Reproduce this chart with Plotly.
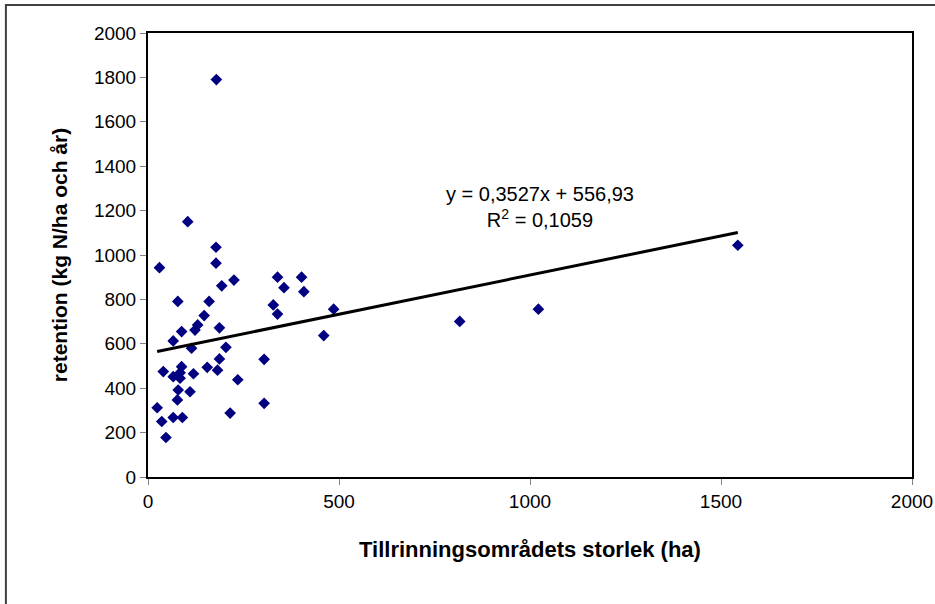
import plotly.graph_objects as go

# catchment area (ha)
area = [179, 104, 178, 178, 30, 225, 193, 339, 402, 356, 408, 78, 160, 328, 339, 486,
        147, 130, 123, 88, 187, 66, 114, 204, 460, 816, 1022, 1544, 304, 187, 155, 182,
        88, 40, 119, 66, 84, 235, 79, 110, 77, 24, 36, 66, 90, 215, 304, 47, 84]
# retention (kg N/ha och år)
retention = [1790, 1150, 1035, 963, 943, 887, 861, 900, 900, 853, 835, 791, 791, 775, 734, 756,
             727, 685, 662, 655, 672, 613, 580, 584, 637, 701, 756, 1044, 530, 532, 494, 481,
             497, 475, 465, 452, 445, 438, 392, 384, 347, 312, 250, 268, 268, 288, 332, 178, 470]

slope = 0.3527
intercept = 556.93
trend_x = [min(area), max(area)]
trend_y = [slope * v + intercept for v in trend_x]

x_ticks = [0, 500, 1000, 1500, 2000]
y_ticks = [0, 200, 400, 600, 800, 1000, 1200, 1400, 1600, 1800, 2000]

FONT = "Liberation Sans, Arial, sans-serif"

fig = go.Figure()
fig.add_trace(go.Scatter(
    x=area, y=retention, mode="markers",
    marker=dict(symbol="diamond", size=9, color="#000080",
                line=dict(width=0)),
    showlegend=False, hoverinfo="x+y"))
fig.add_trace(go.Scatter(
    x=trend_x, y=trend_y, mode="lines",
    line=dict(color="black", width=3), showlegend=False, hoverinfo="skip"))

fig.update_layout(
    width=935, height=604,
    margin=dict(l=148, r=23, t=33, b=127, autoexpand=False),
    paper_bgcolor="white", plot_bgcolor="white",
    font=dict(family=FONT, size=19, color="black"),
    showlegend=False,
)
fig.update_xaxes(
    range=[0, 2000], tickvals=x_ticks, ticktext=[str(v) for v in x_ticks],
    automargin=False,
    showgrid=False, zeroline=False,
    showline=True, linecolor="black", linewidth=2, mirror=True,
    ticks="outside", ticklen=6, tickcolor="#808080", tickwidth=1,
    tickfont=dict(size=19),
    title=dict(text="<b>Tillrinningsområdets storlek (ha)</b>",
               font=dict(size=22), standoff=31),
)
fig.update_yaxes(
    range=[0, 2000], tickvals=y_ticks, ticktext=[str(v) for v in y_ticks],
    automargin=False,
    showgrid=False, zeroline=False,
    showline=True, linecolor="black", linewidth=2, mirror=True,
    ticks="outside", ticklen=6, tickcolor="#808080", tickwidth=1,
    tickfont=dict(size=19),
    title=dict(text="<b>retention (kg N/ha och år)</b>",
               font=dict(size=21), standoff=21),
)

fig.add_annotation(
    x=0.513, y=0.607, xref="paper", yref="paper",
    text="y = 0,3527x + 556,93<br>R<sup>2</sup> = 0,1059",
    showarrow=False, align="center", font=dict(size=20, color="black"),
)

# outer chart border
fig.add_shape(type="rect", xref="paper", yref="paper",
              x0=-0.186, y0=-0.35, x1=1.05, y1=1.063,
              line=dict(color="#404040", width=2), fillcolor="rgba(0,0,0,0)",
              layer="below")

fig.write_html("out.html")
